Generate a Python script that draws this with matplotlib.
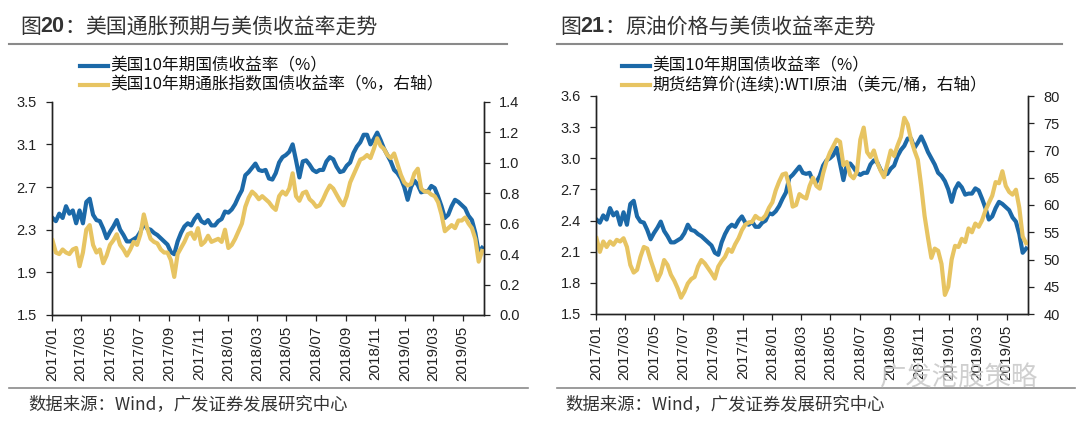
import numpy as np
import pandas as pd
import matplotlib
matplotlib.use("Agg")
import matplotlib.pyplot as plt
import matplotlib.dates as mdates
from matplotlib.lines import Line2D

# ===============================
# data (weekly readings)
# ===============================
weeks = pd.date_range("2017-01-02", periods=128, freq="7D")

# 美国10年期国债收益率 (%), left axis of both panels
ust10y = [2.41, 2.38, 2.45, 2.41, 2.52, 2.45, 2.48, 2.36, 2.48, 2.36,
          2.56, 2.59, 2.44, 2.39, 2.38, 2.31, 2.22, 2.28, 2.33, 2.39,
          2.30, 2.25, 2.19, 2.19, 2.21, 2.23, 2.28, 2.36, 2.31, 2.30,
          2.27, 2.25, 2.22, 2.19, 2.16, 2.09, 2.07, 2.19, 2.27, 2.33,
          2.36, 2.34, 2.40, 2.44, 2.38, 2.36, 2.39, 2.34, 2.34, 2.38,
          2.40, 2.47, 2.46, 2.49, 2.54, 2.61, 2.67, 2.81, 2.84, 2.88,
          2.92, 2.86, 2.85, 2.86, 2.78, 2.77, 2.83, 2.93, 2.98, 3.00,
          3.03, 3.10, 2.95, 2.79, 2.94, 2.95, 2.91, 2.86, 2.84, 2.86,
          2.86, 2.94, 2.98, 2.96, 2.89, 2.84, 2.85, 2.90, 2.93, 3.02,
          3.08, 3.12, 3.19, 3.19, 3.10, 3.15, 3.21, 3.14, 3.06, 3.00,
          2.94, 2.86, 2.83, 2.78, 2.70, 2.58, 2.70, 2.76, 2.72, 2.65,
          2.66, 2.66, 2.71, 2.69, 2.61, 2.52, 2.41, 2.44, 2.52, 2.58,
          2.56, 2.53, 2.50, 2.43, 2.39, 2.27, 2.09, 2.13]

# 美国10年期通胀指数国债收益率 (%, right axis)
tips10y = [0.49, 0.41, 0.40, 0.43, 0.41, 0.40, 0.43, 0.44, 0.32, 0.41,
           0.56, 0.59, 0.46, 0.41, 0.43, 0.34, 0.39, 0.46, 0.49, 0.53,
           0.46, 0.43, 0.39, 0.43, 0.48, 0.46, 0.53, 0.66, 0.57, 0.50,
           0.48, 0.47, 0.43, 0.41, 0.41, 0.36, 0.25, 0.40, 0.44, 0.48,
           0.53, 0.54, 0.50, 0.57, 0.46, 0.48, 0.52, 0.48, 0.49, 0.50,
           0.48, 0.56, 0.44, 0.46, 0.50, 0.55, 0.60, 0.71, 0.77, 0.81,
           0.79, 0.76, 0.78, 0.76, 0.74, 0.71, 0.69, 0.78, 0.81, 0.79,
           0.83, 0.93, 0.78, 0.75, 0.80, 0.81, 0.76, 0.74, 0.71, 0.72,
           0.76, 0.81, 0.85, 0.83, 0.79, 0.75, 0.72, 0.78, 0.87, 0.92,
           0.97, 1.02, 1.03, 1.05, 1.03, 1.09, 1.16, 1.11, 1.09, 1.05,
           1.03, 1.06, 0.99, 0.92, 0.87, 0.85, 0.86, 0.93, 0.96, 0.83,
           0.81, 0.81, 0.79, 0.78, 0.74, 0.66, 0.55, 0.57, 0.59, 0.57,
           0.62, 0.62, 0.64, 0.60, 0.57, 0.50, 0.35, 0.42]

# 期货结算价(连续):WTI原油 (美元/桶, right axis)
wti = [53.9, 51.4, 53.3, 52.3, 53.3, 52.7, 53.6, 53.3, 53.9, 52.3,
       49.0, 47.6, 48.1, 50.5, 52.3, 52.0, 49.9, 48.1, 46.2, 47.5,
       49.9, 49.0, 47.2, 46.1, 44.7, 43.0, 44.1, 45.6, 46.4, 46.8,
       48.7, 49.9, 49.3, 48.4, 47.5, 46.5, 48.7, 49.7, 50.5, 51.9,
       51.4, 52.8, 53.9, 55.4, 56.4, 56.8, 56.9, 58.0, 57.5, 57.4,
       58.1, 59.5, 60.5, 62.7, 64.3, 65.6, 65.8, 63.4, 59.7, 60.0,
       62.0, 61.5, 61.2, 63.5, 65.0, 63.5, 63.0, 65.8, 68.0, 69.6,
       70.8, 72.0, 71.6, 67.3, 67.9, 65.5, 64.9, 66.1, 72.0, 74.2,
       69.7, 68.8, 70.0, 67.8, 66.3, 65.1, 67.5, 70.0, 69.0, 70.9,
       72.5, 76.0, 74.8, 72.0, 70.0, 68.3, 63.5, 58.0, 54.0, 50.3,
       52.0, 51.6, 49.2, 43.5, 45.0, 50.0, 52.5, 52.3, 53.8, 53.2,
       55.7, 55.0, 56.6, 56.0, 57.2, 59.0, 60.4, 61.7, 64.2, 64.0,
       66.2, 63.5, 62.4, 61.9, 62.8, 59.5, 54.2, 53.0]

CJK = ["Noto Sans CJK SC", "DejaVu Sans"]
plt.rcParams["font.family"] = ["Liberation Sans", "DejaVu Sans"]

BLUE = "#1c69a8"
GOLD = "#e7c462"
INK = "#222222"
W, H = 1080, 425

fig = plt.figure(figsize=(W / 100, H / 100), dpi=100)


def fx(x):
    return x / W


def fy(y):
    return 1 - y / H


def panel(x0, x1, ytop, ybot, right_series, ylim, yticks, ylim2, yticks2, fmt, fmt2):
    ax = fig.add_axes([fx(x0), fy(ybot), fx(x1 - x0), (ybot - ytop) / H])
    ax2 = ax.twinx()
    ax.plot(weeks, ust10y, color=BLUE, lw=3.0, solid_joinstyle="round")
    ax2.plot(weeks, right_series, color=GOLD, lw=3.0, solid_joinstyle="round")

    ax.set_xlim(pd.Timestamp("2017-01-01"), pd.Timestamp("2019-06-14"))
    ax.set_ylim(*ylim)
    ax.set_yticks(yticks)
    ax.set_yticklabels([fmt.format(v) for v in yticks])
    ax2.set_ylim(*ylim2)
    ax2.set_yticks(yticks2)
    ax2.set_yticklabels([fmt2.format(v) for v in yticks2])

    ax.xaxis.set_major_locator(mdates.MonthLocator(bymonth=[1, 3, 5, 7, 9, 11]))
    ax.xaxis.set_major_formatter(mdates.DateFormatter("%Y/%m"))

    for a in (ax, ax2):
        a.spines["top"].set_visible(False)
        for s in ("left", "right", "bottom"):
            a.spines[s].set_color(INK)
            a.spines[s].set_linewidth(1.0)
        a.tick_params(direction="out", length=4, width=0.9, color=INK,
                      labelsize=10.5, labelcolor=INK, pad=7)
    ax.tick_params(axis="x", labelrotation=90, labelsize=11, pad=4)
    return ax, ax2


# left panel: inflation-linked yield
panel(52, 484, 101.7, 315, tips10y,
      (1.5, 3.5), [1.5, 1.9, 2.3, 2.7, 3.1, 3.5],
      (0.0, 1.4), [0.0, 0.2, 0.4, 0.6, 0.8, 1.0, 1.2, 1.4],
      "{:.1f}", "{:.1f}")

# right panel: WTI crude
panel(596, 1028, 96, 314, wti,
      (1.5, 3.6), [1.5, 1.8, 2.1, 2.4, 2.7, 3.0, 3.3, 3.6],
      (40, 80), [40, 45, 50, 55, 60, 65, 70, 75, 80],
      "{:.1f}", "{:.0f}")


# titles, rules, legends, sources
def title(x, num, rest):
    fig.text(fx(x), fy(27), "图", family=CJK, fontsize=15, color="#333333", va="center")
    fig.text(fx(x + 20), fy(27), num, fontsize=15.5, fontweight="bold", color="#333333", va="center")
    fig.text(fx(x + 44), fy(27), "：", family=CJK, fontsize=15, color="#333333", va="center")
    fig.text(fx(x + 65), fy(27), rest, family=CJK, fontsize=15, color="#333333", va="center")


title(20, "20", "美国通胀预期与美债收益率走势")
title(560, "21", "原油价格与美债收益率走势")

for xa, xb in ((9, 507), (557, 1062)):
    fig.add_artist(Line2D([fx(xa), fx(xb)], [fy(44)] * 2, color="#8a8a8a", lw=1.5))
for xa, xb in ((9, 528), (557, 1075)):
    fig.add_artist(Line2D([fx(xa), fx(xb)], [fy(388)] * 2, color="#8a8a8a", lw=1.2))


def legend(x, labels):
    for i, (lab, col) in enumerate(zip(labels, (BLUE, GOLD))):
        yy = 66 + 19 * i
        fig.add_artist(Line2D([fx(x), fx(x + 28)], [fy(yy)] * 2, color=col, lw=3.0))
        fig.text(fx(x + 30), fy(yy), lab, family=CJK, fontsize=12, color="#111111", va="center")


legend(80, ["美国10年期国债收益率（%）", "美国10年期通胀指数国债收益率（%，右轴）"])
legend(622, ["美国10年期国债收益率（%）", "期货结算价(连续):WTI原油（美元/桶，右轴）"])

fig.text(fx(28), fy(404), "数据来源：Wind，广发证券发展研究中心", family=CJK, fontsize=12.5,
         color="#333333", va="center")
fig.text(fx(565), fy(404), "数据来源：Wind，广发证券发展研究中心", family=CJK, fontsize=12.5,
         color="#333333", va="center")

# faint watermark
fig.text(fx(880), fy(378), "广发港股策略", family=CJK, fontsize=19, color="#c4c4c4",
         style="italic", va="center", alpha=0.8)

fig.savefig("out.png", dpi=100)
